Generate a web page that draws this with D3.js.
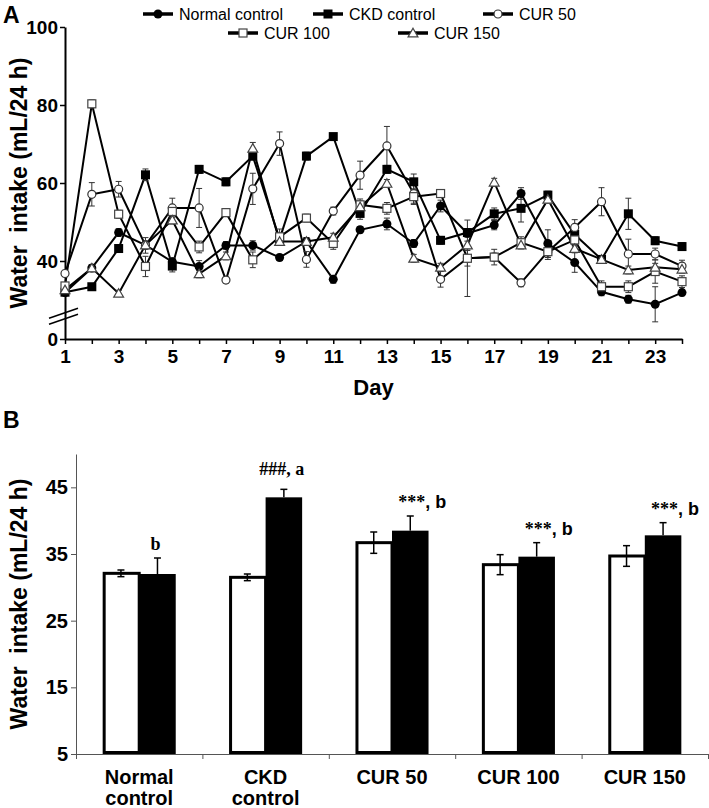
<!DOCTYPE html>
<html>
<head>
<meta charset="utf-8">
<script src="https://cdn.jsdelivr.net/npm/d3@7"></script>
<style>
  html, body { margin: 0; padding: 0; background: #fff; }
  svg { display: block; font-family: "Liberation Sans", Arial, sans-serif; }
  text { white-space: pre; }
</style>
</head>
<body>
<script>
// ---------------- DATA ----------------
const days = [1,2,3,4,5,6,7,8,9,10,11,12,13,14,15,16,17,18,19,20,21,22,23,24];
const seriesNames = ["Normal control", "CKD control", "CUR 50", "CUR 100", "CUR 150"];

const normalValues = [31.9,38.2,47.3,44.1,39.8,38.6,44.0,44.0,40.9,45.0,35.3,48.0,49.5,44.5,54.1,47.1,49.2,57.3,44.5,39.6,32.1,30.2,28.9,31.9];
const ckdValues    = [32.0,33.4,43.2,62.1,38.7,63.5,60.3,66.9,45.6,66.9,71.9,52.2,63.5,60.3,45.3,47.3,52.1,53.5,56.9,46.8,40.4,52.1,45.2,43.7];
const cur50Values  = [36.8,57.1,58.4,44.0,53.6,53.6,35.1,58.5,70.1,40.4,52.8,62.0,69.5,57.3,35.3,40.7,41.0,34.4,42.4,48.6,55.2,41.8,41.8,38.7];
const cur100Values = [33.6,80.3,52.0,38.6,52.7,43.6,52.4,40.3,46.2,51.0,44.5,54.4,53.5,56.5,57.3,40.7,41.0,44.7,42.4,45.4,33.4,33.4,37.3,34.7];
const cur150Values = [32.6,38.2,31.7,44.1,50.5,36.7,41.3,68.9,45.0,45.0,46.1,53.9,59.9,40.7,38.4,44.1,60.2,44.1,55.8,43.2,40.4,37.7,38.4,37.9];

const normalErr = [0.8,0.8,1,1,1,1.5,1,1.2,0.8,1,1,0.8,1.5,1,1.5,1,1.2,1.5,3.5,2.5,1,1,4.5,0.8];
const ckdErr    = [0.8,0.8,1,1.5,1.5,1,1,1,1,1,0.8,1.5,1,2,1,1,1.5,3.5,1,1.5,1,4,1,1];
const cur50Err  = [0.8,3,2,2,2.5,5,0.8,4,3,2,1,3.6,5,2.5,2,9.8,1,1,1.5,2,3.6,3.8,1.5,1.5];
const cur100Err = [0.8,1,1,2.6,1,1.5,1,2,2,1,1.5,1,1.5,2,1,2,2,1.5,2,1.5,1.5,1.5,3,1.5];
const cur150Err = [0.8,0.8,0.8,1,1,1,1,1.5,1,1,1,2,1,1,1,1,1,1,1,1,1,1,1,1];

const topYTicks = [20,40,60,80,100];        // 20 sits at the broken-axis "0" position
const topYTickLabels = ["0","40","60","80","100"];

const groups = ["Normal control","CKD control","CUR 50","CUR 100","CUR 150"];
const groupLabelLines = [["Normal","control"],["CKD","control"],["CUR 50"],["CUR 100"],["CUR 150"]];
const whiteValues = [32.1,31.5,36.7,33.4,34.7];
const whiteErr    = [0.5,0.5,1.6,1.5,1.55];
const blackValues = [32.0,43.5,38.5,34.6,37.8];
const blackErr    = [2.4,1.2,2.2,2.1,1.9];
const annotations = ["b","###, a","***, b","***, b","***, b"];
const bottomYTicks = [5,15,25,35,45];

// ---------------- SETUP ----------------
const W = 709, H = 808;
const svg = d3.select("body").append("svg").attr("width", W).attr("height", H);

// ---------------- PANEL A ----------------
const xTop = d3.scaleLinear().domain([1,24]).range([65,682]);
const yTop = d3.scaleLinear().domain([20,100]).range([339,27]);

svg.append("text").attr("x",3).attr("y",23).attr("font-size",23).attr("font-weight","bold").text("A");

const gyA = svg.append("g").attr("transform",`translate(${xTop(1)},0)`)
  .call(d3.axisLeft(yTop).tickValues(topYTicks).tickFormat((d,i)=>topYTickLabels[i]).tickSize(5).tickSizeOuter(0));
const gxA = svg.append("g").attr("transform",`translate(0,${yTop(20)})`)
  .call(d3.axisBottom(xTop).tickValues(days).tickFormat(d => d % 2 === 1 ? d : "").tickSize(5).tickSizeOuter(0));
[gyA,gxA].forEach(g=>{
  g.select(".domain").attr("stroke","#000").attr("stroke-width",2);
  g.selectAll(".tick line").attr("stroke","#000").attr("stroke-width",1.5);
  g.selectAll(".tick text").attr("font-size",19).attr("font-weight","bold").attr("fill","#000")
    .attr("font-family","'Liberation Sans', Arial, sans-serif");
});
gyA.selectAll(".tick text").attr("x",-7);
gxA.selectAll(".tick text").attr("dy","0.85em");

// axis break marks
const bx = xTop(1), by = yTop(26.6);
[0,6].forEach(off=>{
  svg.append("line").attr("x1",bx-16).attr("y1",by+5+off).attr("x2",bx+13).attr("y2",by-5+off)
    .attr("stroke","#000").attr("stroke-width",1.5);
});

svg.append("text").attr("transform",`translate(27,${(yTop(20)+yTop(100))/2}) rotate(-90)`)
  .attr("text-anchor","middle").attr("font-size",23).attr("font-weight","bold").text("Water  intake (mL/24 h)");
svg.append("text").attr("x",(xTop(1)+xTop(24))/2).attr("y",395).attr("text-anchor","middle")
  .attr("font-size",22).attr("font-weight","bold").text("Day");

const seriesValues = [normalValues, ckdValues, cur50Values, cur100Values, cur150Values];
const seriesErr = [normalErr, ckdErr, cur50Err, cur100Err, cur150Err];
const markerTypes = ["fcircle","fsquare","ocircle","osquare","otriangle"];

function drawMarker(g, type, x, y, scale=1){
  if(type==="fcircle") g.append("circle").attr("cx",x).attr("cy",y).attr("r",4.5*scale).attr("fill","#000");
  else if(type==="fsquare") g.append("rect").attr("x",x-4.5*scale).attr("y",y-4.5*scale).attr("width",9*scale).attr("height",9*scale).attr("fill","#000");
  else if(type==="ocircle") g.append("circle").attr("cx",x).attr("cy",y).attr("r",4*scale).attr("fill","#fff").attr("stroke","#333").attr("stroke-width",1.2);
  else if(type==="osquare") g.append("rect").attr("x",x-4*scale).attr("y",y-4*scale).attr("width",8*scale).attr("height",8*scale).attr("fill","#fff").attr("stroke","#444").attr("stroke-width",1.2);
  else if(type==="otriangle") g.append("path").attr("d",d3.symbol(d3.symbolTriangle, 42*scale*scale)()).attr("transform",`translate(${x},${y+1})`).attr("fill","#fff").attr("stroke","#444").attr("stroke-width",1.2);
}

const line = d3.line().x((d,i)=>xTop(days[i])).y(d=>yTop(d));
const gLines = svg.append("g"), gErr = svg.append("g"), gMarks = svg.append("g");
seriesValues.forEach((vals,s)=>{
  gLines.append("path").datum(vals).attr("d",line).attr("fill","none").attr("stroke","#000").attr("stroke-width",2).attr("stroke-linejoin","miter");
  vals.forEach((v,i)=>{
    const e = seriesErr[s][i], x = xTop(days[i]);
    const y1 = yTop(v-e), y2 = yTop(v+e);
    gErr.append("line").attr("x1",x).attr("x2",x).attr("y1",y1).attr("y2",y2).attr("stroke","#333").attr("stroke-width",1);
    [y1,y2].forEach(yy=>gErr.append("line").attr("x1",x-3).attr("x2",x+3).attr("y1",yy).attr("y2",yy).attr("stroke","#333").attr("stroke-width",1));
  });
});
seriesValues.forEach((vals,s)=>{
  vals.forEach((v,i)=>drawMarker(gMarks, markerTypes[s], xTop(days[i]), yTop(v)));
});

// legend
const legendPos = [[143,14],[313,14],[483,14],[228,33],[398,33]];
seriesNames.forEach((name,s)=>{
  const [lx,ly] = legendPos[s];
  const g = svg.append("g");
  g.append("line").attr("x1",lx).attr("x2",lx+30).attr("y1",ly).attr("y2",ly).attr("stroke","#000").attr("stroke-width",3.5);
  drawMarker(g, markerTypes[s], lx+15, ly, 1);
  g.append("text").attr("x",lx+36).attr("y",ly).attr("dy","0.35em").attr("font-size",16).text(name);
});

// ---------------- PANEL B ----------------
svg.append("text").attr("x",3).attr("y",428).attr("font-size",23).attr("font-weight","bold").text("B");

const xB = d3.scaleBand().domain(groups).range([76,708]).padding(0);
const xIn = d3.scaleBand().domain(["white","black"]).range([0,xB.bandwidth()]).paddingInner(0).paddingOuter(0.73);
const yB = d3.scaleLinear().domain([5,50]).range([754,454]);

const gyB = svg.append("g").attr("transform",`translate(${xB.range()[0]},0)`)
  .call(d3.axisLeft(yB).tickValues(bottomYTicks).tickSize(5).tickSizeOuter(0));
const gxB = svg.append("g").attr("transform",`translate(0,${yB(5)})`)
  .call(d3.axisBottom(d3.scaleLinear().domain([0,groups.length]).range(xB.range()))
    .tickValues(d3.range(0,groups.length+1)).tickFormat("").tickSize(5).tickSizeOuter(0));
[gyB,gxB].forEach(g=>{
  g.select(".domain").attr("stroke","#555").attr("stroke-width",1);
  g.selectAll(".tick line").attr("stroke","#555").attr("stroke-width",1);
  g.selectAll(".tick text").attr("font-size",20).attr("font-weight","bold").attr("fill","#000")
    .attr("font-family","'Liberation Sans', Arial, sans-serif").attr("x",-8);
});

svg.append("text").attr("transform",`translate(27,${(yB(5)+yB(50))/2}) rotate(-90)`)
  .attr("text-anchor","middle").attr("font-size",23).attr("font-weight","bold").text("Water  intake (mL/24 h)");

groups.forEach((gname,i)=>{
  const x0 = xB(gname);
  const wx = x0 + xIn("white"), bxx = x0 + xIn("black"), bw = xIn.bandwidth();
  // black bar
  svg.append("rect").attr("x",bxx).attr("y",yB(blackValues[i])).attr("width",bw).attr("height",yB(5)-yB(blackValues[i])).attr("fill","#000");
  // white bar
  svg.append("rect").attr("x",wx+1.5).attr("y",yB(whiteValues[i])).attr("width",bw-1.5).attr("height",yB(5)-yB(whiteValues[i])-1.5)
    .attr("fill","#fff").attr("stroke","#000").attr("stroke-width",3);
  // error bars
  const wc = wx + bw/2, bc = bxx + bw/2;
  const eb = (x, ya, yb2, caps) => {
    svg.append("line").attr("x1",x).attr("x2",x).attr("y1",ya).attr("y2",yb2).attr("stroke","#000").attr("stroke-width",1.5);
    caps.forEach(yy=>svg.append("line").attr("x1",x-3.5).attr("x2",x+3.5).attr("y1",yy).attr("y2",yy).attr("stroke","#000").attr("stroke-width",1.5));
  };
  eb(wc, yB(whiteValues[i]-whiteErr[i]), yB(whiteValues[i]+whiteErr[i]), [yB(whiteValues[i]-whiteErr[i]), yB(whiteValues[i]+whiteErr[i])]);
  eb(bc, yB(blackValues[i]), yB(blackValues[i]+blackErr[i]), [yB(blackValues[i]+blackErr[i])]);
  // annotation
  const ann = annotations[i];
  const ay = yB(blackValues[i]+blackErr[i]) - (ann.startsWith("###") ? 14 : 8);
  if(ann.startsWith("***")){
    const t = svg.append("text").attr("x",bc+12).attr("y",ay).attr("text-anchor","middle").attr("font-weight","bold");
    t.append("tspan").attr("font-family","'Liberation Serif','Times New Roman',serif").attr("font-size",18).text("***");
    t.append("tspan").attr("font-size",18).text(ann.slice(3));
  } else {
    svg.append("text").attr("x",bc-2).attr("y",ay).attr("text-anchor","middle").attr("font-weight","bold")
      .attr("font-family","'Liberation Serif','Times New Roman',serif").attr("font-size",18).text(ann);
  }
  // category labels
  groupLabelLines[i].forEach((ln,k)=>{
    svg.append("text").attr("x",x0+xB.bandwidth()/2).attr("y",784+k*21).attr("text-anchor","middle")
      .attr("font-size",20).attr("font-weight","bold").text(ln);
  });
});
</script>
</body>
</html>
